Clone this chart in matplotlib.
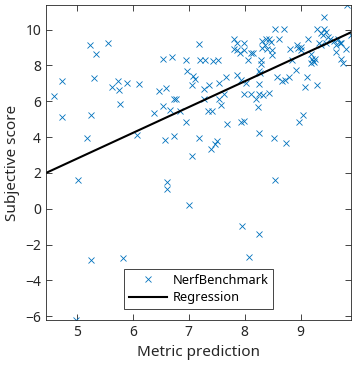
import matplotlib
matplotlib.use("Agg")
import matplotlib.pyplot as plt
import numpy as np

plt.rcParams['font.family'] = ['Noto Sans', 'DejaVu Sans']

metric = [4.59, 4.73, 4.73, 5.23, 5.35, 5.55, 5.31, 5.25, 5.19, 5.63, 5.74, 5.75, 5.89, 5.78,
          6.12, 6.08, 6.47, 6.59, 6.54, 6.38, 6.67, 6.74, 6.77, 6.85, 6.95, 6.58, 6.73, 7.06,
          6.55, 6.70, 6.95, 6.97, 7.07, 7.11, 7.06, 7.18, 7.21, 7.18,
          7.29, 7.44, 7.52, 7.28, 7.36, 7.54, 7.66, 7.27, 7.54, 7.63, 7.58, 7.34, 7.42, 7.68,
          7.40, 7.47, 7.51, 7.81, 7.81, 7.87, 7.86, 7.99, 7.99, 7.92, 8.06, 8.12, 8.15,
          7.87, 7.93, 8.02, 7.99, 8.12, 7.93, 7.99, 8.25, 8.29, 8.29, 8.26, 8.27,
          8.31, 8.31, 8.36, 8.40, 8.38, 8.44, 8.47, 8.49, 8.48, 8.55, 8.70, 8.62,
          8.25, 8.21, 8.33, 8.44, 8.24, 8.25, 8.52, 8.73, 8.57, 8.67, 8.72, 8.80,
          8.81, 8.85, 8.91, 8.93, 8.96, 9.00, 9.00, 9.13, 9.11, 9.07, 9.30, 8.97, 9.05,
          9.18, 9.21, 9.23, 9.18, 9.25, 9.22,
          9.30, 9.37, 9.42, 9.45, 9.41, 9.32, 9.40, 9.48, 9.52, 9.36, 9.45,
          9.59, 9.66, 9.73, 9.70, 9.64, 9.64, 9.73, 9.76, 9.81, 9.90, 9.82,
          5.02, 6.62, 6.62, 7.01, 5.25, 5.83, 4.98, 8.55, 7.96, 8.25, 8.08]
subjective = [6.30, 7.11, 5.14, 9.15, 8.64, 9.23, 7.30, 5.22, 3.96, 6.81, 7.11, 6.63, 7.04, 5.87,
              6.96, 4.10, 6.59, 6.76, 5.74, 5.35, 5.53, 6.13, 6.13, 5.46, 4.85, 3.83, 4.07, 2.97,
              8.34, 8.48, 8.30, 7.71, 7.41, 7.24, 6.89, 9.17, 8.30, 3.97,
              8.30, 8.26, 8.30, 6.70, 6.91, 7.04, 7.34, 6.13, 6.13, 6.39, 5.78, 5.46, 5.46, 4.74,
              3.36, 3.62, 3.77, 9.49, 8.90, 9.23, 8.86, 9.23, 8.86, 8.67, 8.30, 8.67, 8.71,
              7.48, 7.19, 7.04, 6.41, 6.41, 4.85, 4.90, 6.96, 8.30, 8.08, 7.71, 7.56,
              9.34, 8.97, 9.15, 8.90, 9.45, 9.45, 9.30, 8.86, 8.56, 10.04, 10.04, 9.45,
              6.41, 6.15, 6.33, 6.48, 5.66, 4.22, 3.96, 3.66, 7.37, 7.15, 7.19, 7.34,
              8.93, 8.30, 7.74, 9.12, 8.97, 9.04, 8.86, 9.49, 7.34, 6.78, 6.89, 4.85, 5.25,
              8.64, 8.34, 8.19, 8.15, 8.37, 8.26,
              10.01, 9.79, 10.04, 9.86, 10.71, 9.23, 9.71, 9.60, 9.45, 9.15, 9.23,
              9.34, 9.45, 9.26, 9.23, 9.12, 8.75, 8.37, 8.15, 8.93, 9.71, 11.35,
              1.62, 1.47, 1.10, 0.21, -2.88, -2.77, -6.18, 1.58, -0.98, -1.39, -2.69]

reg_slope = 1.44
reg_intercept = -4.41
xlim = (4.45, 9.9)
ylim = (-6.2, 11.36)
xticks = [5, 6, 7, 8, 9]
yticks = [-6, -4, -2, 0, 2, 4, 6, 8, 10]

fig = plt.figure(figsize=(3.56, 3.69), dpi=100)
ax = fig.add_axes([0.129, 0.133, 0.857, 0.853])

ax.plot(metric, subjective, 'x', color='#0072BD', markersize=4.6, markeredgewidth=0.6,
        linestyle='none', label='NerfBenchmark')
xl = np.array(xlim)
ax.plot(xl, reg_slope * xl + reg_intercept, color='black', lw=1.5, label='Regression')

ax.set_xlim(*xlim)
ax.set_ylim(*ylim)
ax.set_xticks(xticks)
ax.set_yticks(yticks)
ax.tick_params(direction='in', top=True, right=True, labelsize=10, colors='#262626',
               length=4, width=0.6)
for s in ax.spines.values():
    s.set_color('#262626')
    s.set_linewidth(0.6)
ax.set_xlabel('Metric prediction', fontsize=11, color='#262626')
ax.set_ylabel('Subjective score', fontsize=11, color='#262626')

leg = ax.legend(loc='lower center', bbox_to_anchor=(0.5, 0.015), fontsize=9.2,
                fancybox=False, framealpha=1, edgecolor='#262626', borderpad=0.35,
                handlelength=3.0, handletextpad=0.4, labelspacing=0.35)
leg.get_frame().set_linewidth(0.6)

fig.savefig('out.png', dpi=100)
